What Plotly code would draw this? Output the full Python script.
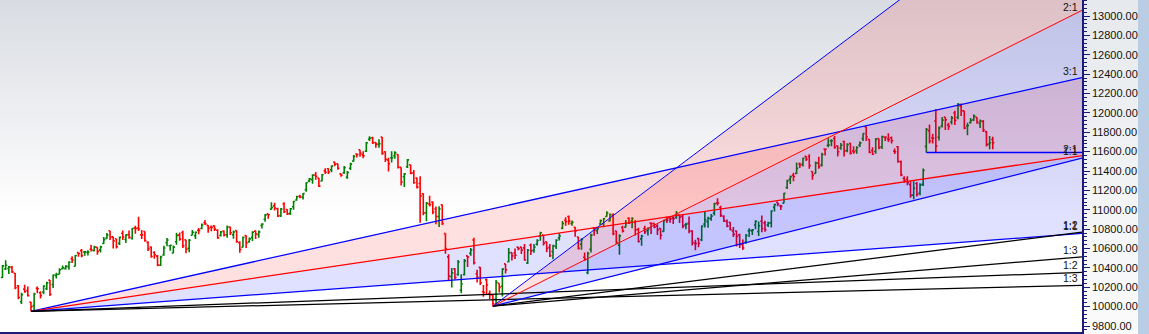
import plotly.graph_objects as go

# ---------------- data (daily bars, index 0 = first bar) ----------------
opens = [
    10301,10389,10393,10405,10345,10215,10051,10181,10167,10047,10010,10188,10144,
    10151,10186,10274,10229,10322,10334,10391,10392,10411,10495,10417,10557,10578,10563,10560,10592,10578,10612,10586,10651,10705,
    10783,10720,10700,10653,10757,10693,10743,10703,10813,10812,10741,10775,10663,10616,10559,10521,10427,10533,10661,10628,10554,10670,
    10738,10765,10689,10603,10737,10732,10789,10806,10866,10839,10822,10834,10789,10734,10781,10742,10822,10742,10785,10660,10613,
    10733,10668,10715,10779,10745,10838,10902,10957,11007,11040,11010,10939,11060,11002,10963,11031,11100,11140,11129,11206,11296,11311,
    11359,11328,11297,11401,11424,11412,11493,11475,11370,11381,11334,11428,11502,11576,11620,11566,11605,11731,11744,11694,11675,
    11751,11598,11514,11537,11558,11570,11437,11341,11444,11464,11381,11326,11271,11165,10969,11059,11079,11008,
    10930,11051,10754,10514,10310,10390,10331,10169,10331,10524,10550,10688,10339,10405,10153,10278,10135,10122,10078,10240,10210,
    10441,10463,10558,10553,10614,10614,10607,10451,10634,10581,10644,10731,10740,10670,10612,10568,10621,10708,10809,10892,
    10930,10859,10820,10718,10644,10509,10351,10591,10810,10784,10853,10856,10930,10885,10944,10780,10635,10817,10821,10913,
    10882,10868,10796,10699,10805,10786,10862,10859,10834,10807,10777,10900,10919,10914,10919,10949,10931,10844,10859,10780,10653,10702,10690,
    10852,10876,10908,10965,11071,11024,10931,10879,10870,10780,10780,10741,10641,10665,10781,10782,10843,10775,10881,10865,
    10842,10864,11025,11078,11038,11068,11229,11314,11356,11376,11473,11468,11553,11549,11395,11375,11481,11463,11626,
    11665,11711,11736,11660,11638,11705,11612,11686,11605,11612,11667,11736,11856,11727,11612,11602,11735,11651,11748,
    11730,11744,11605,11651,11496,11323,11315,11259,11151,11271,11170,11262,11654,11817,11740,11916,11748,11863,11958,11875,11906,11999,
    11954,12070,12022,11865,11899,11929,11954,11890,11911,11806,11678,11725,
]
highs = [
    10430,10478,10420,10420,10346,10224,10142,10227,10207,10049,10143,10208,10159,
    10220,10256,10274,10332,10350,10397,10425,10428,10469,10519,10534,10560,10594,10573,10582,10638,10628,10612,10628,10719,10759,
    10784,10721,10701,10725,10785,10746,10786,10812,10835,10929,10790,10775,10674,10621,10572,10533,10524,10628,10709,10638,10631,10763,
    10764,10784,10690,10699,10791,10775,10812,10858,10893,10842,10837,10837,10800,10781,10786,10837,10824,10785,10785,10674,10724,
    10736,10713,10778,10786,10785,10860,10956,10959,11078,11072,11020,11019,11077,11006,11019,11093,11144,11154,11173,11283,11328,11366,
    11391,11329,11368,11428,11428,11459,11496,11475,11374,11452,11401,11486,11565,11581,11620,11604,11700,11760,11753,11698,11727,
    11751,11602,11536,11604,11603,11574,11439,11380,11523,11464,11411,11332,11346,11171,11080,11145,11089,11034,
    11035,11054,10754,10540,10398,10397,10482,10335,10492,10526,10604,10710,10380,10408,10222,10290,10166,10128,10275,10240,10396,
    10441,10606,10558,10600,10616,10619,10646,10596,10651,10646,10695,10774,10740,10671,10646,10638,10695,10757,10884,10922,
    10941,10890,10821,10722,10705,10558,10567,10752,10822,10816,10900,10915,10985,10962,10964,10782,10747,10834,10893,10923,
    10923,10895,10814,10741,10835,10818,10870,10860,10850,10808,10896,10929,10931,10931,10988,10949,10955,10866,10931,10788,10690,10710,10838,
    10983,10928,10956,11073,11119,11042,10943,10900,10872,10822,10785,10752,10692,10750,10808,10801,10892,10880,10941,10886,
    10877,10995,11062,11078,11052,11176,11310,11353,11381,11488,11487,11536,11556,11573,11395,11499,11546,11588,11630,
    11738,11729,11761,11662,11689,11713,11686,11688,11655,11655,11704,11789,11857,11727,11645,11740,11736,11763,11760,
    11789,11757,11633,11657,11509,11346,11345,11294,11294,11286,11273,11426,11845,11881,11784,12041,11860,11958,11958,11898,11968,12022,
    12103,12096,12022,11897,11946,11982,11954,11931,11927,11814,11761,11754,
]
lows = [
    10295,10377,10336,10346,10180,10075,10028,10142,10105,9952,9958,10139,10085,
    10127,10171,10111,10193,10290,10333,10384,10383,10381,10451,10416,10515,10509,10526,10528,10568,10571,10536,10559,10647,10700,
    10689,10601,10601,10635,10689,10658,10701,10692,10752,10781,10699,10669,10574,10505,10494,10418,10419,10526,10622,10578,10550,10639,
    10681,10605,10550,10562,10736,10697,10747,10798,10843,10763,10777,10780,10701,10724,10724,10710,10740,10701,10660,10557,10613,
    10604,10663,10677,10699,10711,10807,10876,10908,10999,10992,10926,10925,10966,10946,10946,10999,11092,11118,11106,11186,11285,11268,
    11309,11234,11294,11370,11370,11386,11450,11413,11340,11371,11321,11411,11499,11539,11546,11532,11595,11710,11678,11639,11640,
    11567,11494,11394,11488,11527,11427,11250,11234,11432,11366,11268,11220,10867,10943,10882,11034,10954,10851,
    10821,10843,10547,10262,10198,10280,10318,10139,10321,10410,10525,10436,10249,10224,10102,10126,10079,10005,10020,10146,10105,
    10341,10457,10477,10491,10582,10544,10474,10440,10532,10557,10631,10679,10632,10562,10512,10489,10596,10682,10798,10835,
    10845,10834,10721,10589,10588,10474,10333,10560,10732,10749,10845,10819,10928,10880,10738,10649,10535,10764,10817,10853,
    10808,10735,10662,10628,10750,10733,10749,10808,10739,10692,10772,10864,10866,10853,10908,10864,10808,10798,10757,10631,10583,10612,10676,
    10818,10814,10886,10941,11043,10925,10874,10819,10789,10718,10620,10604,10585,10650,10718,10740,10800,10730,10768,10772,
    10823,10817,10982,11037,10997,11068,11214,11265,11294,11370,11431,11446,11503,11424,11311,11374,11422,11446,11559,
    11644,11655,11629,11550,11620,11550,11594,11570,11579,11578,11648,11710,11710,11583,11564,11578,11624,11628,11710,
    11699,11685,11576,11484,11345,11278,11252,11125,11108,11136,11150,11244,11591,11683,11685,11592,11715,11849,11822,11822,11881,11874,
    11935,11967,11830,11769,11890,11917,11888,11845,11803,11654,11625,11625,
]
closes = [
    10421,10427,10410,10360,10195,10094,10124,10155,10114,9998,10131,10184,10114,
    10212,10245,10128,10326,10332,10380,10402,10418,10459,10481,10528,10548,10527,10565,10564,10584,10614,10570,10617,10692,10739,
    10718,10679,10618,10715,10718,10741,10716,10806,10806,10801,10741,10682,10596,10517,10536,10430,10513,10605,10688,10633,10614,10736,
    10697,10628,10593,10685,10768,10768,10787,10843,10856,10808,10818,10800,10710,10772,10741,10822,10762,10770,10671,10590,10714,
    10657,10699,10769,10749,10772,10852,10947,10948,11023,11018,10936,11008,10980,10957,11010,11085,11134,11132,11167,11278,11319,11357,
    11346,11244,11361,11387,11389,11450,11470,11429,11356,11435,11385,11471,11551,11570,11582,11557,11692,11738,11691,11677,11681,
    11582,11520,11476,11537,11589,11438,11287,11370,11515,11377,11279,11234,11143,10967,11067,11053,10977,10930,
    11008,10858,10599,10316,10348,10301,10460,10234,10472,10512,10584,10453,10303,10245,10146,10224,10124,10030,10250,10199,10387,
    10380,10553,10524,10530,10598,10585,10482,10582,10576,10616,10682,10763,10656,10600,10526,10628,10685,10729,10858,10877,
    10883,10870,10782,10601,10694,10488,10549,10738,10791,10805,10888,10908,10967,10951,10754,10663,10730,10779,10859,10863,
    10910,10793,10672,10727,10772,10802,10855,10821,10795,10737,10886,10891,10905,10907,10962,10923,10831,10850,10780,10662,10652,10652,10831,
    10894,10912,10934,11062,11069,10944,10888,10831,10793,10746,10724,10641,10605,10735,10789,10792,10880,10835,10806,10793,
    10863,10987,11053,11058,11035,11169,11301,11342,11343,11427,11462,11532,11521,11456,11355,11483,11445,11570,11624,
    11669,11713,11644,11598,11666,11605,11671,11584,11597,11643,11690,11787,11753,11594,11576,11726,11641,11755,11748,
    11725,11712,11599,11498,11360,11302,11279,11148,11222,11157,11257,11407,11828,11710,11738,11657,11844,11925,11928,11861,11946,11923,
    12088,12021,11843,11870,11922,11966,11906,11915,11823,11672,11691,11691,
]
n = len(closes)
if not (len(opens) == len(highs) == len(lows) == n):
    raise ValueError(f"length mismatch {len(opens)} {len(highs)} {len(lows)} {n}")
bar_index = list(range(n))

# Gann fans: origin bar, origin price, 1:1 slope (price per bar)
fan_origin_bars = [9, 155]
fan_origin_prices = [9952, 10005]
fan_unit_slopes = [2.42, 8.2]
fan_ratios = [3, 2, 1, 1 / 2, 1 / 3]
fan_labels = ["3:1", "2:1", "1:1", "1:2", "1:3"]

# horizontal line from the gap bar's low
hline_bar = 292
hline_price = 11591

y_tick_values = list(range(9800, 13001, 200))

# ---------------- layout constants ----------------
W, H = 1149, 334
ML, MR, MT, MB = 0, 67, 0, 2
PLOT_W = W - ML - MR
PLOT_H = H - MT - MB
X_LEFT, X_RIGHT = -0.79, 341.2
Y_LOW, Y_HIGH = 9738.1, 13165.2
NAVY = "#1c1c78"
FAN_COLORS = ["#0000ff", "#ff0000", "#0000ff", "#000000", "#000000"]
PINK = "rgba(255,0,0,0.12)"
LAV = "rgba(0,0,255,0.12)"
LABEL_FONT = dict(family="Liberation Sans, Arial, sans-serif", size=10.5, color="#111111")

fig = go.Figure()

fig.add_trace(go.Ohlc(
    x=bar_index, open=opens, high=highs, low=lows, close=closes,
    increasing=dict(line=dict(color="#008000", width=1.6)),
    decreasing=dict(line=dict(color="#ff0000", width=1.6)),
    tickwidth=0.5, hoverinfo="skip", showlegend=False,
))

annotations = []
for ob, op, s in zip(fan_origin_bars, fan_origin_prices, fan_unit_slopes):
    ends = [op + s * r * (X_RIGHT - ob) for r in fan_ratios]
    fig.add_trace(go.Scatter(x=[ob, X_RIGHT, X_RIGHT, ob], y=[op, ends[0], ends[1], op],
                             mode="lines", line=dict(width=0), fill="toself", fillcolor=PINK,
                             hoverinfo="skip", showlegend=False))
    fig.add_trace(go.Scatter(x=[ob, X_RIGHT, X_RIGHT, ob], y=[op, ends[1], ends[2], op],
                             mode="lines", line=dict(width=0), fill="toself", fillcolor=LAV,
                             hoverinfo="skip", showlegend=False))
for fi, (ob, op, s) in enumerate(zip(fan_origin_bars, fan_origin_prices, fan_unit_slopes)):
    for r, lab, col in zip(fan_ratios, fan_labels, FAN_COLORS):
        end = op + s * r * (X_RIGHT - ob)
        steep = fi == 1 and r >= 2
        fig.add_trace(go.Scatter(x=[ob, X_RIGHT], y=[op, end], mode="lines",
                                 line=dict(color=col, width=1.0 if steep else 1.25),
                                 hoverinfo="skip", showlegend=False))
        if end < Y_HIGH:
            if end > Y_HIGH - 120:
                # keep the top label inside the picture, pinned to the top edge
                annotations.append(dict(x=X_RIGHT, y=1, xref="x", yref="paper", text=lab,
                                        showarrow=False, xanchor="right", yanchor="top",
                                        xshift=-2, yshift=1, font=LABEL_FONT))
            else:
                annotations.append(dict(x=X_RIGHT, y=end, xref="x", yref="y", text=lab,
                                        showarrow=False, xanchor="right", yanchor="bottom",
                                        xshift=-2, yshift=-1, font=LABEL_FONT))

fig.add_trace(go.Scatter(x=[hline_bar, X_RIGHT], y=[hline_price, hline_price], mode="lines",
                         line=dict(color="#0000ff", width=1.6), hoverinfo="skip", showlegend=False))

# background gradients (styling only)
shapes = []
bands = 60
grad_end_px = 215
top_rgb = (216, 220, 226)
for k in range(bands):
    p0 = k * PLOT_H / bands
    p1 = (k + 1) * PLOT_H / bands
    mid = (p0 + p1) / 2
    t = min(mid / grad_end_px, 1.0)
    c = tuple(round(a + (255 - a) * t) for a in top_rgb)
    shapes.append(dict(type="rect", xref="paper", yref="paper", x0=0, x1=1,
                       y0=1 - p1 / PLOT_H - 0.002, y1=1 - p0 / PLOT_H,
                       fillcolor=f"rgb{c}", line=dict(width=0), layer="below"))
lab_x1 = (1138 - ML) / PLOT_W
lab_top = (230, 233, 237)
for k in range(bands):
    p0 = k * H / bands
    p1 = (k + 1) * H / bands
    t = ((p0 + p1) / 2) / H
    c = tuple(round(a + (251 - a) * t) for a in lab_top)
    shapes.append(dict(type="rect", xref="paper", yref="paper", x0=1.0, x1=lab_x1,
                       y0=1 - (p1 - MT) / PLOT_H - 0.002, y1=1 - (p0 - MT) / PLOT_H,
                       fillcolor=f"rgb{c}", line=dict(width=0), layer="below"))
shapes.append(dict(type="rect", xref="paper", yref="paper", x0=lab_x1, x1=(W - ML) / PLOT_W + 0.01,
                   y0=-0.05, y1=1.05, fillcolor="rgb(185,205,228)", line=dict(width=0), layer="below"))

fig.update_layout(
    width=W, height=H, margin=dict(l=ML, r=MR, t=MT, b=MB),
    paper_bgcolor="white", plot_bgcolor="white",
    showlegend=False, hovermode=False,
    shapes=shapes, annotations=annotations,
    xaxis=dict(range=[X_LEFT, X_RIGHT], showgrid=False, zeroline=False,
               showline=True, linecolor=NAVY, linewidth=1.5,
               ticks="outside", ticklen=3, tickcolor=NAVY, tick0=1.5, dtick=5,
               showticklabels=False, rangeslider=dict(visible=False)),
    yaxis=dict(range=[Y_LOW, Y_HIGH], side="right", showgrid=False, zeroline=False,
               showline=True, linecolor=NAVY, linewidth=1.5,
               tickvals=y_tick_values, tickformat=".2f",
               ticks="outside", ticklen=6, tickcolor=NAVY,
               tickfont=dict(family="Liberation Sans, Arial, sans-serif", size=11, color="#111111"),
               minor=dict(dtick=40, tick0=9800, ticks="outside", ticklen=3, tickcolor=NAVY, showgrid=False)),
)

fig.write_html("out.html")
